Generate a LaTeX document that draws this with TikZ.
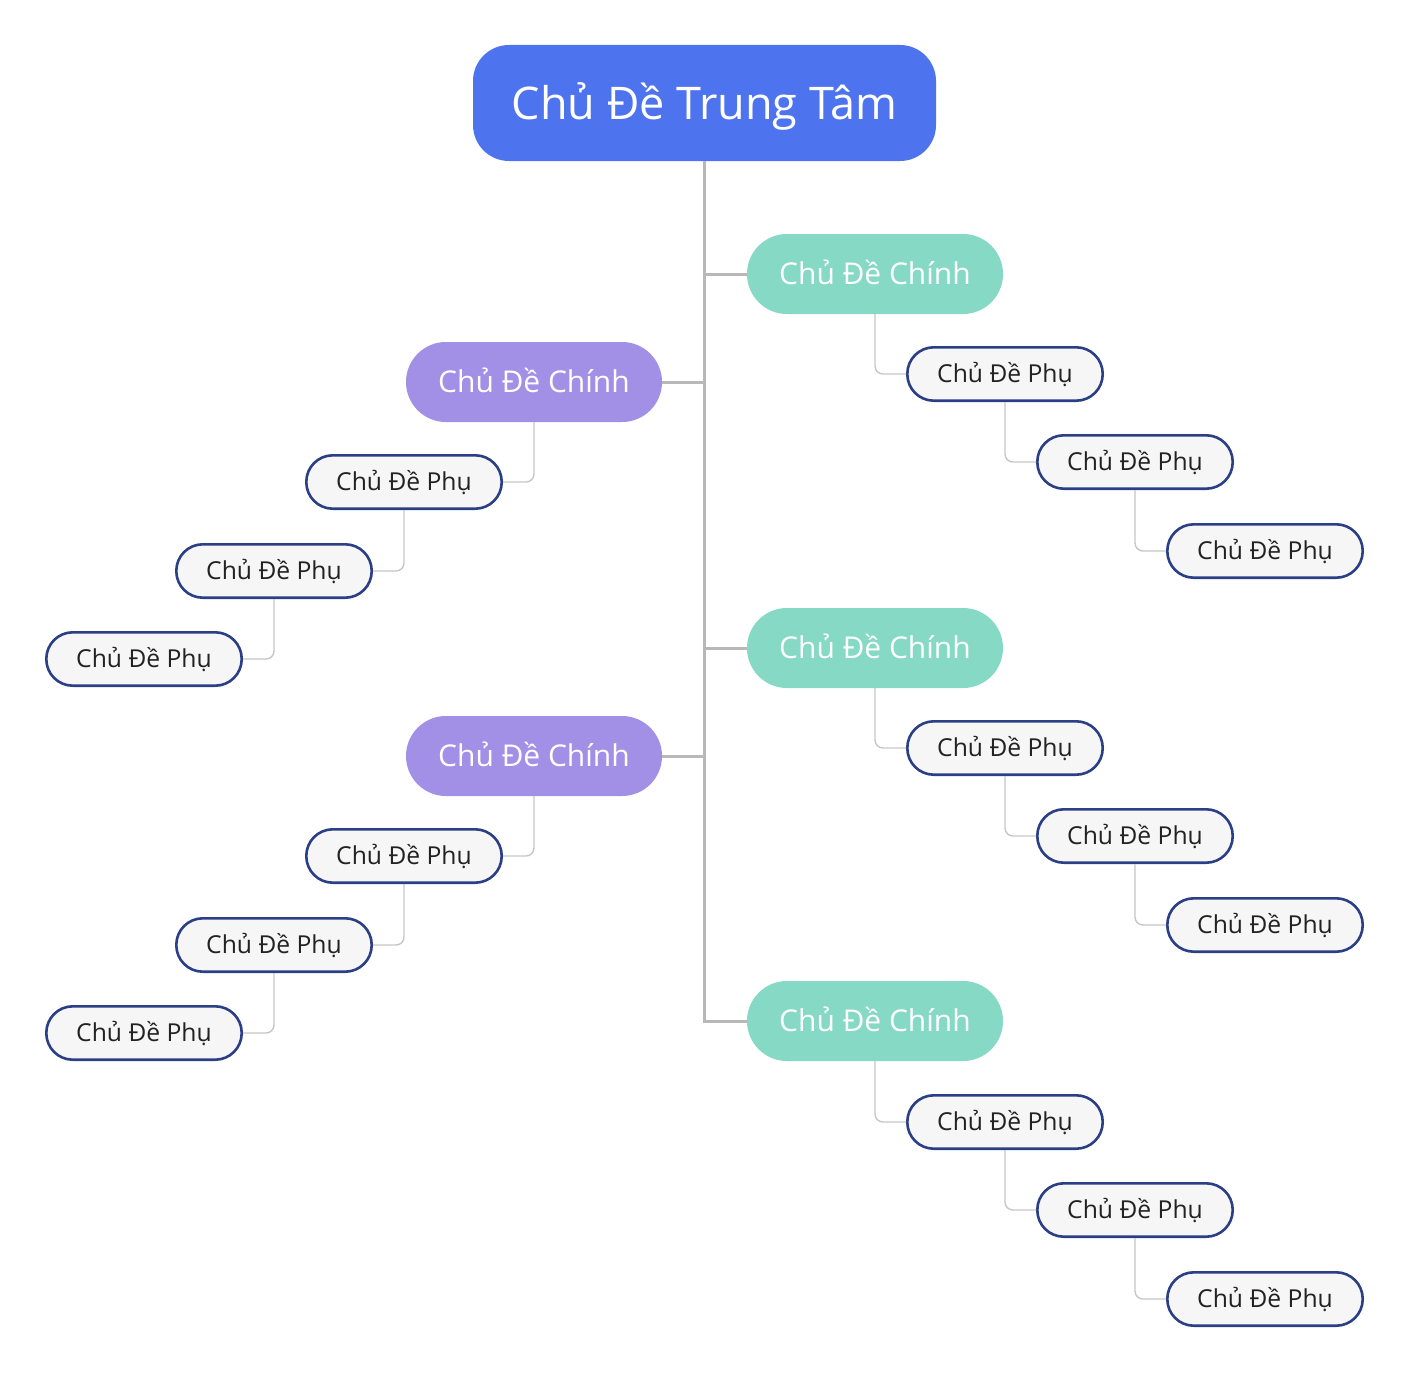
\documentclass[tikz,border=0pt]{standalone}
\usepackage{fontspec}
\setmainfont{Open Sans}
\usetikzlibrary{positioning}
\definecolor{hub}{HTML}{4E73EE}
\definecolor{mainR}{HTML}{86D9C5}
\definecolor{mainL}{HTML}{A28FE6}
\definecolor{subline}{HTML}{2B3F86}
\definecolor{subfill}{HTML}{F6F6F6}
\definecolor{subtext}{HTML}{222222}
\definecolor{trunkgray}{HTML}{B8B8B8}
\definecolor{linkgray}{HTML}{C6C6C6}
\tikzset{
  ct/.style={rounded corners=36pt, fill=hub, text=white, inner sep=0pt,
             minimum width=463pt, minimum height=116pt,
             text height=32.2pt, text depth=0pt, font=\fontsize{45}{52}\selectfont},
  mt/.style={rounded corners=39.9pt, text=white, inner sep=0pt,
             minimum width=256pt, minimum height=80pt,
             text height=21.5pt, text depth=0pt, font=\fontsize{30}{36}\selectfont},
  st/.style={rounded corners=26.5pt, draw=subline, line width=2.6pt, fill=subfill,
             text=subtext, inner sep=0pt, minimum width=195.4pt, minimum height=53.4pt,
             text height=17.6pt, text depth=0pt, font=\fontsize{24.7}{30}\selectfont},
  tk/.style={draw=trunkgray, line width=3pt},                   % trunk line
  le/.style={draw=linkgray, line width=1.4pt, rounded corners=8pt}, % sub link
}
\begin{document}
\begin{tikzpicture}[x=1pt, y=-1pt]
  \useasboundingbox (0,0) rectangle (1410,1386);
  \node[ct] (ct) at (704.5,103) {Chủ Đề Trung Tâm};
  % main topics
  \node[mt, fill=mainR] (m1) at (875,274)  {Chủ Đề Chính};
  \node[mt, fill=mainL] (m2) at (534,382)  {Chủ Đề Chính};
  \node[mt, fill=mainR] (m3) at (875,648)  {Chủ Đề Chính};
  \node[mt, fill=mainL] (m4) at (534,756)  {Chủ Đề Chính};
  \node[mt, fill=mainR] (m5) at (875,1021) {Chủ Đề Chính};
  \foreach \m in {m1,m2,m3,m4,m5} \draw[tk] (ct.south) |- (\m);
  % sub topics, right side
  \foreach \m/\y in {m1/374,m3/748,m5/1122} {
    \node[st] (\m a) at (1005,\y)    {Chủ Đề Phụ};
    \node[st] (\m b) at (1135,\y+88) {Chủ Đề Phụ};
    \node[st] (\m c) at (1265,\y+177) {Chủ Đề Phụ};
    \draw[le] (\m.south) |- (\m a.west);
    \draw[le] (\m a.south) |- (\m b.west);
    \draw[le] (\m b.south) |- (\m c.west);
  }
  % sub topics, left side
  \foreach \m/\y in {m2/482,m4/856} {
    \node[st] (\m a) at (404,\y)     {Chủ Đề Phụ};
    \node[st] (\m b) at (274,\y+89)  {Chủ Đề Phụ};
    \node[st] (\m c) at (144,\y+177) {Chủ Đề Phụ};
    \draw[le] (\m.south) |- (\m a.east);
    \draw[le] (\m a.south) |- (\m b.east);
    \draw[le] (\m b.south) |- (\m c.east);
  }
\end{tikzpicture}
\end{document}
